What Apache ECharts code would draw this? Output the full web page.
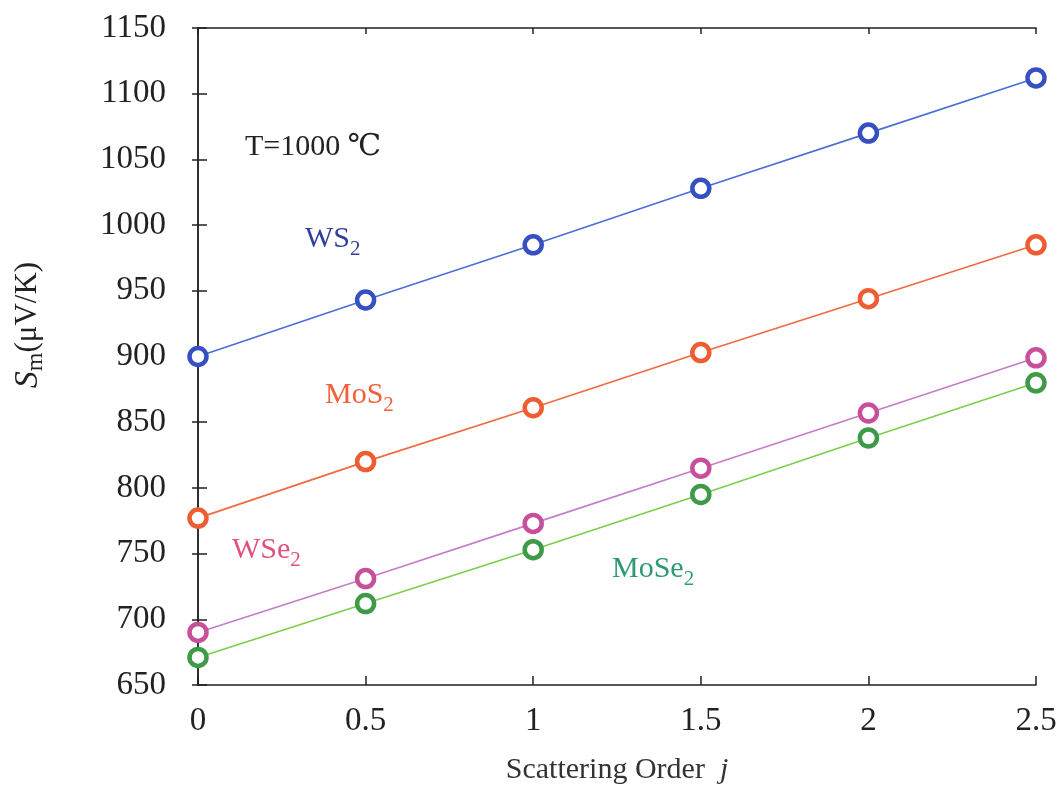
<!DOCTYPE html>
<html>
<head>
<meta charset="utf-8">
<script src="https://cdn.jsdelivr.net/npm/echarts@6/dist/echarts.min.js"></script>
<style>
  html, body { margin: 0; padding: 0; background: #fff; }
  #chart { width: 1062px; height: 795px; }
</style>
</head>
<body>
<div id="chart"></div>
<script>
// scattering order j
const orders = [0, 0.5, 1, 1.5, 2, 2.5];

// S_m (uV/K)
const ws2   = [900, 943, 985, 1028, 1070, 1112];
const mos2  = [777, 820, 861, 903, 944, 985];
const wse2  = [690, 731, 773, 815, 857, 899];
const mose2 = [671, 712, 753, 795, 838, 880];

const yTicks = [650, 700, 750, 800, 850, 900, 950, 1000, 1050, 1100, 1150];

const FONT = '"Liberation Serif", "DejaVu Serif", serif';
const chartDiv = document.getElementById('chart');
const chart = echarts.init(chartDiv);

function pts(ys) {
  return orders.map((x, i) => [x, ys[i]]);
}

function lineSeries(name, ys, lineColor, markColor) {
  return {
    name: name,
    type: 'line',
    data: pts(ys),
    symbol: 'circle',
    symbolSize: 17,
    itemStyle: { color: '#fff', borderColor: markColor, borderWidth: 4.5 },
    lineStyle: { color: lineColor, width: 1.6 },
    z: 3
  };
}

const axisLine = { show: true, lineStyle: { color: '#222', width: 1.5 } };
const axisTick = { show: true, inside: true, length: 9, lineStyle: { color: '#222', width: 1.5 } };
const shortTick = { show: true, inside: true, length: 6, lineStyle: { color: '#222', width: 1.5 } };

const txt = (text, x, y, color, rich) => ({
  type: 'text', left: x, top: y,
  style: { text: text, fill: color, font: '30px ' + FONT, rich: rich }
});
const sub = color => ({ sub: { fontSize: 21, fontFamily: FONT, fill: color, padding: [20, 0, 0, 0] } });

const option = {
  animation: false,
  grid: { left: 198, right: 26, top: 28, bottom: 110 },
  xAxis: [{
    type: 'value', min: 0, max: 2.5, interval: 0.5,
    axisLine: axisLine, axisTick: axisTick, splitLine: { show: false },
    axisLabel: { fontFamily: FONT, fontSize: 33, color: '#222', margin: 20 },
    name: '{a|Scattering Order  }{i|j}',
    nameLocation: 'middle', nameGap: 70,
    nameTextStyle: {
      rich: {
        a: { fontFamily: FONT, fontSize: 30, color: '#333' },
        i: { fontFamily: FONT, fontSize: 30, color: '#333', fontStyle: 'italic' }
      }
    }
  }, {
    type: 'value', min: 0, max: 2.5, interval: 0.5, position: 'top',
    axisLine: axisLine, axisTick: shortTick, axisLabel: { show: false }, splitLine: { show: false }
  }],
  yAxis: [{
    type: 'value', min: yTicks[0], max: yTicks[yTicks.length - 1], interval: 50,
    axisLine: axisLine, axisTick: axisTick, splitLine: { show: false },
    axisLabel: { fontFamily: FONT, fontSize: 33, color: '#222', margin: 32, formatter: v => String(v) }
  }, {
    type: 'value', min: yTicks[0], max: yTicks[yTicks.length - 1], interval: 50, position: 'right',
    axisLine: axisLine, axisTick: shortTick, axisLabel: { show: false }, splitLine: { show: false }
  }],
  graphic: [
    {
      type: 'text', x: 28, y: 325, rotation: Math.PI / 2,
      style: {
        text: '{s|S}{m|m}{a|(μV/K)}', align: 'center', verticalAlign: 'middle',
        rich: {
          s: { fontFamily: FONT, fontSize: 34, fill: '#222', fontStyle: 'italic' },
          m: { fontFamily: FONT, fontSize: 24, fill: '#222', padding: [16, 0, 0, 0] },
          a: { fontFamily: FONT, fontSize: 31, fill: '#222' }
        }
      }
    },
    txt('T=1000 ℃', 245, 132, '#222'),
    txt('WS{sub|2}', 305, 224, '#2f3f9a', sub('#2f3f9a')),
    txt('MoS{sub|2}', 325, 380, '#f0603a', sub('#f0603a')),
    txt('WSe{sub|2}', 232, 535, '#e2507a', sub('#e2507a')),
    txt('MoSe{sub|2}', 612, 554, '#2e9a70', sub('#2e9a70'))
  ],
  series: [
    lineSeries('WS2', ws2, '#4a6fd6', '#3650c2'),
    lineSeries('MoS2', mos2, '#f06a40', '#ee5c32'),
    lineSeries('WSe2', wse2, '#c47ec8', '#c8509a'),
    lineSeries('MoSe2', mose2, '#7ccf4a', '#3f9a48')
  ]
};
chart.setOption(option);
</script>
</body>
</html>
